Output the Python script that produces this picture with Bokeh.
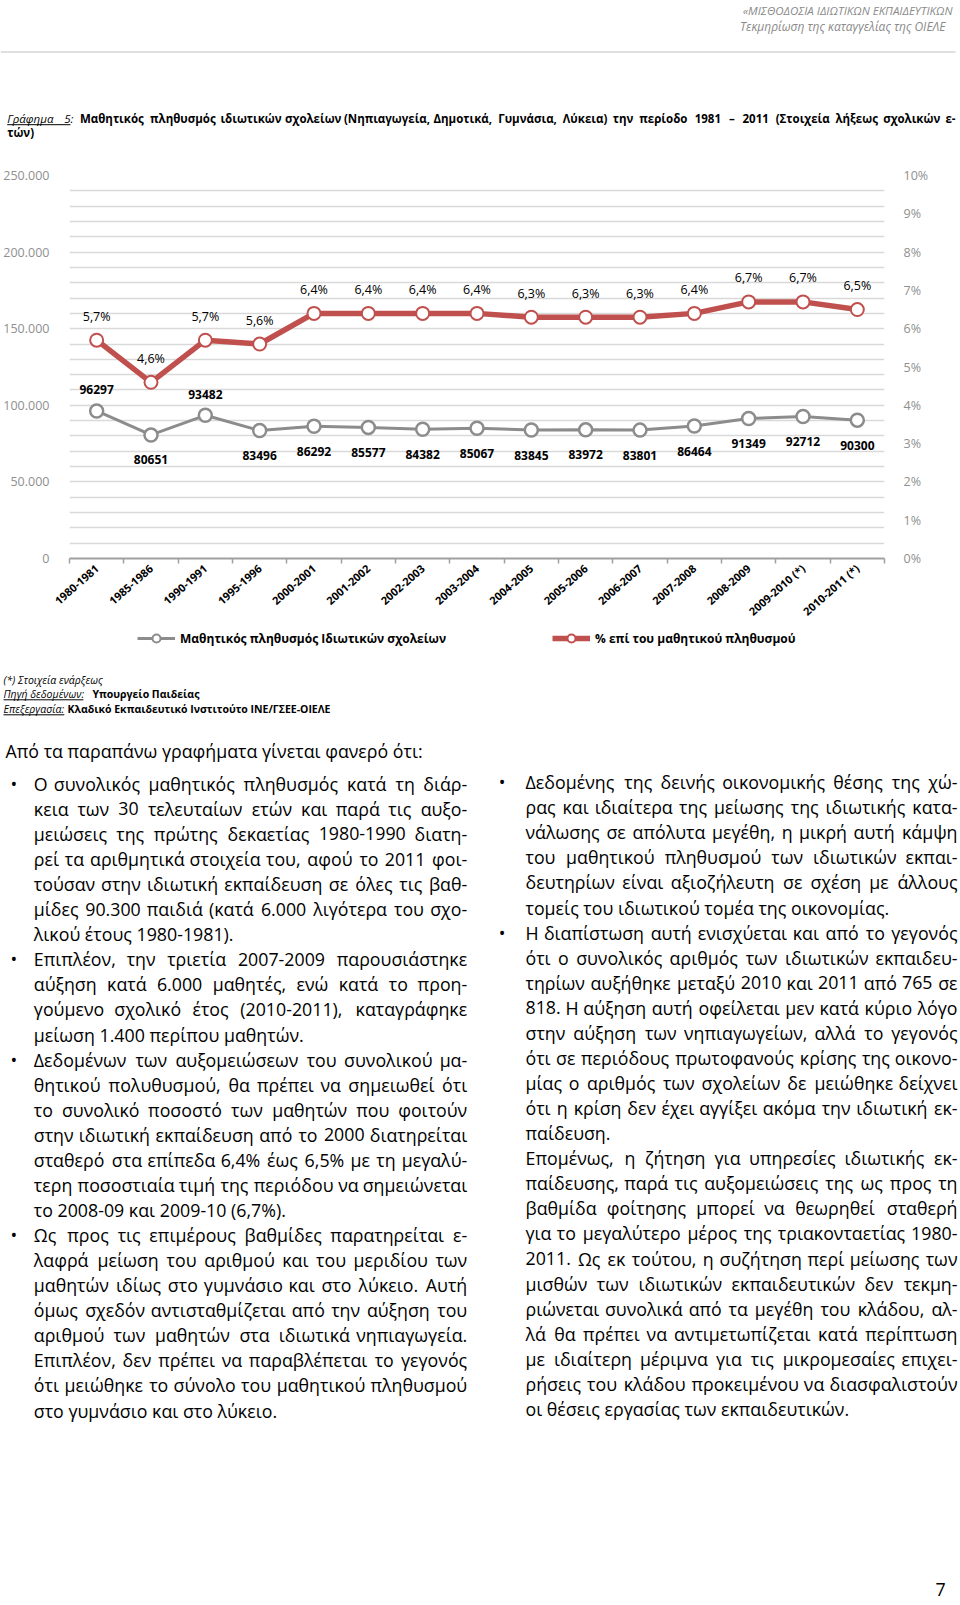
from bokeh.plotting import figure
from bokeh.models import ColumnDataSource, Range1d, LinearAxis, FixedTicker, Legend, LegendItem
from bokeh.layouts import column
from bokeh.embed import file_html
from bokeh.resources import INLINE
from bokeh.core.properties import value

# ---------------- data ----------------
school_years = ["1980-1981", "1985-1986", "1990-1991", "1995-1996", "2000-2001",
                "2001-2002", "2002-2003", "2003-2004", "2004-2005", "2005-2006",
                "2006-2007", "2007-2008", "2008-2009", "2009-2010 (*)", "2010-2011 (*)"]
students = [96297, 80651, 93482, 83496, 86292, 85577, 84382, 85067,
            83845, 83972, 83801, 86464, 91349, 92712, 90300]
share_pct = [5.7, 4.6, 5.7, 5.6, 6.4, 6.4, 6.4, 6.4, 6.3, 6.3, 6.3, 6.4, 6.7, 6.7, 6.5]
left_ticks = [0, 50000, 100000, 150000, 200000, 250000]
left_tick_labels = ["0", "50.000", "100.000", "150.000", "200.000", "250.000"]
right_ticks = [0, 1, 2, 3, 4, 5, 6, 7, 8, 9, 10]
right_tick_labels = ["0%", "1%", "2%", "3%", "4%", "5%", "6%", "7%", "8%", "9%", "10%"]
series_names = ["Μαθητικός πληθυσμός Ιδιωτικών σχολείων", "% επί του μαθητικού πληθυσμού"]
count_label_above = [True, False, True, False, False, False, False, False,
                     False, False, False, False, False, False, False]

header_lines = ["«ΜΙΣΘΟΔΟΣΙΑ ΙΔΙΩΤΙΚΩΝ ΕΚΠΑΙΔΕΥΤΙΚΩΝ", "Τεκμηρίωση της καταγγελίας της ΟΙΕΛΕ"]
title_italic = ["Γράφημα", "5:"]
title_line1 = ("Μαθητικός πληθυσμός ιδιωτικών σχολείων (Νηπιαγωγεία, Δημοτικά, Γυμνάσια, "
               "Λύκεια) την περίοδο 1981 – 2011 (Στοιχεία λήξεως σχολικών ε-")
title_line2 = "τών)"
note_line = "(*) Στοιχεία ενάρξεως"
source_label, source_text = "Πηγή δεδομένων:", "Υπουργείο Παιδείας"
proc_label, proc_text = "Επεξεργασία:", "Κλαδικό Εκπαιδευτικό Ινστιτούτο ΙΝΕ/ΓΣΕΕ-ΟΙΕΛΕ"
intro_line = "Από τα παραπάνω γραφήματα γίνεται φανερό ότι:"

# (text, justified, bullet)
left_lines = [
    ("Ο συνολικός μαθητικός πληθυσμός κατά τη διάρ-", True, True),
    ("κεια των 30 τελευταίων ετών και παρά τις αυξο-", True, False),
    ("μειώσεις της πρώτης δεκαετίας 1980-1990 διατη-", True, False),
    ("ρεί τα αριθμητικά στοιχεία του, αφού το 2011 φοι-", True, False),
    ("τούσαν στην ιδιωτική εκπαίδευση σε όλες τις βαθ-", True, False),
    ("μίδες 90.300 παιδιά (κατά 6.000 λιγότερα του σχο-", True, False),
    ("λικού έτους 1980-1981).", False, False),
    ("Επιπλέον, την τριετία 2007-2009 παρουσιάστηκε", True, True),
    ("αύξηση κατά 6.000 μαθητές, ενώ κατά το προη-", True, False),
    ("γούμενο σχολικό έτος (2010-2011), καταγράφηκε", True, False),
    ("μείωση 1.400 περίπου μαθητών.", False, False),
    ("Δεδομένων των αυξομειώσεων του συνολικού μα-", True, True),
    ("θητικού πολυθυσμού, θα πρέπει να σημειωθεί ότι", True, False),
    ("το συνολικό ποσοστό των μαθητών που φοιτούν", True, False),
    ("στην ιδιωτική εκπαίδευση από το 2000 διατηρείται", True, False),
    ("σταθερό στα επίπεδα 6,4% έως 6,5% με τη μεγαλύ-", True, False),
    ("τερη ποσοστιαία τιμή της περιόδου να σημειώνεται", True, False),
    ("το 2008-09 και 2009-10 (6,7%).", False, False),
    ("Ως προς τις επιμέρους βαθμίδες παρατηρείται ε-", True, True),
    ("λαφρά μείωση του αριθμού και του μεριδίου των", True, False),
    ("μαθητών ιδίως στο γυμνάσιο και στο λύκειο. Αυτή", True, False),
    ("όμως σχεδόν αντισταθμίζεται από την αύξηση του", True, False),
    ("αριθμού των μαθητών στα ιδιωτικά νηπιαγωγεία.", True, False),
    ("Επιπλέον, δεν πρέπει να παραβλέπεται το γεγονός", True, False),
    ("ότι μειώθηκε το σύνολο του μαθητικού πληθυσμού", True, False),
    ("στο γυμνάσιο και στο λύκειο.", False, False),
]
right_lines = [
    ("Δεδομένης της δεινής οικονομικής θέσης της χώ-", True, True),
    ("ρας και ιδιαίτερα της μείωσης της ιδιωτικής κατα-", True, False),
    ("νάλωσης σε απόλυτα μεγέθη, η μικρή αυτή κάμψη", True, False),
    ("του μαθητικού πληθυσμού των ιδιωτικών εκπαι-", True, False),
    ("δευτηρίων είναι αξιοζήλευτη σε σχέση με άλλους", True, False),
    ("τομείς του ιδιωτικού τομέα της οικονομίας.", False, False),
    ("Η διαπίστωση αυτή ενισχύεται και από το γεγονός", True, True),
    ("ότι ο συνολικός αριθμός των ιδιωτικών εκπαιδευ-", True, False),
    ("τηρίων αυξήθηκε μεταξύ 2010 και 2011 από 765 σε", True, False),
    ("818. Η αύξηση αυτή οφείλεται μεν κατά κύριο λόγο", True, False),
    ("στην αύξηση των νηπιαγωγείων, αλλά το γεγονός", True, False),
    ("ότι σε περιόδους πρωτοφανούς κρίσης της οικονο-", True, False),
    ("μίας ο αριθμός των σχολείων δε μειώθηκε δείχνει", True, False),
    ("ότι η κρίση δεν έχει αγγίξει ακόμα την ιδιωτική εκ-", True, False),
    ("παίδευση.", False, False),
    ("Επομένως, η ζήτηση για υπηρεσίες ιδιωτικής εκ-", True, False),
    ("παίδευσης, παρά τις αυξομειώσεις της ως προς τη", True, False),
    ("βαθμίδα φοίτησης μπορεί να θεωρηθεί σταθερή", True, False),
    ("για το μεγαλύτερο μέρος της τριακονταετίας 1980-", True, False),
    ("2011. Ως εκ τούτου, η συζήτηση περί μείωσης των", True, False),
    ("μισθών των ιδιωτικών εκπαιδευτικών δεν τεκμη-", True, False),
    ("ριώνεται συνολικά από τα μεγέθη του κλάδου, αλ-", True, False),
    ("λά θα πρέπει να αντιμετωπίζεται κατά περίπτωση", True, False),
    ("με ιδιαίτερη μέριμνα για τις μικρομεσαίες επιχει-", True, False),
    ("ρήσεις του κλάδου προκειμένου να διασφαλιστούν", True, False),
    ("οι θέσεις εργασίας των εκπαιδευτικών.", False, False),
]
page_number = "7"

# ---------------- styles ----------------
FONT = "Open Sans"
RED = "#C0504D"
GREY = "#8C8C8C"
AXIS_TXT = "#8F8F8F"
W = 960


def cw(c):
    if c == " ":
        return 0.26
    if c in "ιίϊΐΙ":
        return 0.30
    if c in "ijl":
        return 0.25
    if c in "ft":
        return 0.35
    if c == "r":
        return 0.41
    if c in ".:;":
        return 0.27
    if c == ",":
        return 0.25
    if c == "-":
        return 0.32
    if c in "()":
        return 0.29
    if c == "%":
        return 0.83
    if c == "/":
        return 0.37
    if c == "–":
        return 0.50
    if c in "«»":
        return 0.49
    if c == "*":
        return 0.54
    if c.isdigit():
        return 0.572
    if c in "γνχτςεέζξ":
        return 0.49
    if c in "κλ":
        return 0.54
    if c in "φψ":
        return 0.78
    if c in "ωώ":
        return 0.82
    if c == "m":
        return 0.93
    if c == "w":
        return 0.78
    if c in "ΜΩ":
        return 0.88
    if c.isupper():
        return 0.66
    return 0.61


def tw(s, size, style="normal"):
    f = 1.07 if style == "bold" else (0.97 if style == "italic" else 1.0)
    return sum(cw(c) for c in s) * size * f


class Sink:
    def __init__(self):
        self.groups = {}

    def add(self, x, y, t, size, style="normal", align="left", color="#000000"):
        g = self.groups.setdefault((size, style, align, color), dict(x=[], y=[], text=[]))
        g["x"].append(x)
        g["y"].append(y)
        g["text"].append(t)

    def render(self, fig):
        for (size, style, align, color), g in self.groups.items():
            fig.text(x="x", y="y", text="text", source=ColumnDataSource(g),
                     text_font=value(FONT), text_font_size=value(f"{size}px"),
                     text_font_style=value(style), text_align=value(align),
                     text_baseline=value("middle"), text_color=value(color))


def justify(sink, words, left, right, y, size, color="#000000"):
    """words: list of (word, style). Returns left/right edge of each word."""
    widths = [tw(w, size, s) for w, s in words]
    n = len(words)
    gap = (right - left - sum(widths)) / (n - 1)
    pos = left
    edges = []
    for i, (w, s) in enumerate(words):
        if i == 0:
            sink.add(left, y, w, size, s, "left", color)
        elif i == n - 1:
            sink.add(right, y, w, size, s, "right", color)
        else:
            sink.add(pos + widths[i] / 2, y, w, size, s, "center", color)
        edges.append((pos, pos + widths[i]))
        pos += widths[i] + gap
    return edges


def text_fig(h):
    f = figure(width=W, height=h, x_range=Range1d(0, W), y_range=Range1d(h, 0),
               toolbar_location=None, output_backend="svg",
               x_axis_type=None, y_axis_type=None,
               min_border=0, min_border_left=0, min_border_right=0,
               min_border_top=0, min_border_bottom=0, frame_align=False)
    f.outline_line_color = None
    f.background_fill_color = "white"
    return f


# ---------------- header figure (page y 0..150) ----------------
HA = 150
fa = text_fig(HA)
sa = Sink()
sa.add(952, 10, header_lines[0], 11.5, "italic", "right", "#8A8A8A")
sa.add(945, 25.7, header_lines[1], 12, "italic", "right", "#8A8A8A")
fa.segment(x0=[0], y0=[51.5], x1=[955], y1=[51.5], line_color="#D4D4D4", line_width=1.5)
TS = 11.5
title_words = [(w, "italic") for w in title_italic] + [(w, "bold") for w in title_line1.split(" ")]
edges = justify(sa, title_words, 6.7, 955, 117.7, TS)
ul_end = edges[1][1] - tw(":", TS, "italic")
fa.segment(x0=[6.7], y0=[117.7 + 6.5], x1=[ul_end], y1=[117.7 + 6.5], line_color="#000000", line_width=1)
sa.add(6.7, 132.3, title_line2, TS, "bold", "left")
sa.render(fa)

# ---------------- chart figure (page y 150..628) ----------------
xs = [i + 0.5 for i in range(len(school_years))]
src = ColumnDataSource(dict(
    x=xs, students=students, pct=share_pct,
    cnt_lbl=[str(v) for v in students],
    pct_lbl=[f"{v:.1f}".replace(".", ",") + "%" for v in share_pct],
    cnt_off=[-21 if a else 25 for a in count_label_above],
))

p = figure(frame_width=815, frame_height=383,
           x_range=Range1d(0, len(school_years)), y_range=Range1d(0, 250000),
           toolbar_location=None, output_backend="svg", frame_align=False,
           min_border_left=68, min_border_right=77, min_border_top=25, min_border_bottom=70)
p.outline_line_color = None
p.xgrid.visible = False
p.ygrid.ticker = FixedTicker(ticks=list(range(10000, 250001, 10000)))
p.ygrid.grid_line_color = "#D9D9D9"
p.ygrid.grid_line_width = 1.3

ya = p.yaxis[0]
ya.ticker = FixedTicker(ticks=left_ticks)
ya.major_label_overrides = dict(zip(left_ticks, left_tick_labels))
ya.axis_line_color = None
ya.major_tick_line_color = None
ya.minor_tick_line_color = None
ya.major_label_text_font = FONT
ya.major_label_text_font_size = "12.5px"
ya.major_label_text_color = AXIS_TXT
ya.major_label_standoff = 14

p.extra_y_ranges = {"pct": Range1d(0, 10)}
ra = LinearAxis(y_range_name="pct", ticker=FixedTicker(ticks=right_ticks),
                major_label_overrides=dict(zip(right_ticks, right_tick_labels)))
ra.axis_line_color = None
ra.major_tick_line_color = None
ra.minor_tick_line_color = None
ra.major_label_text_font = FONT
ra.major_label_text_font_size = "12.5px"
ra.major_label_text_color = AXIS_TXT
ra.major_label_standoff = 13
p.add_layout(ra, "right")

xa = p.xaxis[0]
xa.ticker = FixedTicker(ticks=xs, minor_ticks=list(range(len(school_years) + 1)))
xa.major_label_overrides = dict(zip(xs, school_years))
xa.axis_line_color = "#A0A0A0"
xa.axis_line_width = 2
xa.major_tick_line_color = None
xa.minor_tick_line_color = "#A0A0A0"
xa.minor_tick_line_width = 1.5
xa.minor_tick_in = 0
xa.minor_tick_out = 5
xa.major_label_orientation = 0.72
xa.major_label_text_font = FONT
xa.major_label_text_font_size = "11px"
xa.major_label_text_font_style = "bold"
xa.major_label_text_color = "#000000"
xa.major_label_standoff = 2

gl = p.line(x="x", y="students", source=src, line_color=GREY, line_width=3)
gs = p.scatter(x="x", y="students", source=src, marker="circle", size=13,
               fill_color="white", line_color=GREY, line_width=2.5)
rl = p.line(x="x", y="pct", source=src, y_range_name="pct", line_color=RED, line_width=5.5)
rs = p.scatter(x="x", y="pct", source=src, y_range_name="pct", marker="circle", size=13,
               fill_color="white", line_color=RED, line_width=2)

p.text(x="x", y="students", text="cnt_lbl", source=src, y_offset="cnt_off",
       text_font=value(FONT), text_font_size=value("12px"), text_font_style=value("bold"),
       text_align=value("center"), text_baseline=value("middle"), text_color=value("#000000"))
p.text(x="x", y="pct", text="pct_lbl", source=src, y_range_name="pct", y_offset=-24,
       text_font=value(FONT), text_font_size=value("12.5px"),
       text_align=value("center"), text_baseline=value("middle"), text_color=value("#000000"))

# ---------------- legend strip (page y 628..648) ----------------
HL = 20
fl = text_fig(HL)
fl.y_range = Range1d(0, HL)
# legend swatch renderers: one point kept outside the visible strip, only their styles are shown
swatch = dict(x=[-100], y=[-100])
leg_styles = [
    (series_names[0], GREY, 3, 2, 137),
    (series_names[1], RED, 5.5, 2, 552),
]
for name, col, lw, mlw, lx in leg_styles:
    lr = fl.line(x="x", y="y", source=ColumnDataSource(swatch), line_color=col, line_width=lw)
    mr = fl.scatter(x="x", y="y", source=ColumnDataSource(swatch), marker="circle",
                    fill_color="white", line_color=col, line_width=mlw)
    leg = Legend(items=[LegendItem(label=name, renderers=[lr, mr])], location=(lx, 0),
                 orientation="horizontal", padding=0, margin=0, spacing=0,
                 glyph_width=38, glyph_height=HL, label_standoff=5, label_height=HL,
                 label_text_font=FONT, label_text_font_size="12px",
                 label_text_font_style="bold", label_text_color="#000000",
                 border_line_color=None, background_fill_alpha=0)
    fl.add_layout(leg, "center")

# ---------------- body text figure (page y 648..1598) ----------------
Y0 = 648
HC = 950
fc = text_fig(HC)
sc = Sink()
FS_NOTE = 10.5
sc.add(3, 679 - Y0, note_line, FS_NOTE, "italic", "left")
sc.add(3, 693.3 - Y0, source_label, FS_NOTE, "italic", "left")
sc.add(92, 693.3 - Y0, source_text, FS_NOTE, "bold", "left")
sc.add(3, 708.3 - Y0, proc_label, FS_NOTE, "italic", "left")
sc.add(67, 708.3 - Y0, proc_text, FS_NOTE, "bold", "left")
ul_src = 3 + tw(source_label[:-1], FS_NOTE, "italic")
ul_proc = 3 + tw(proc_label[:-1], FS_NOTE, "italic")
fc.segment(x0=[3, 3], y0=[693.3 + 6 - Y0, 708.3 + 6 - Y0], x1=[ul_src, ul_proc],
           y1=[693.3 + 6 - Y0, 708.3 + 6 - Y0], line_color="#000000", line_width=1)

FS = 17.8
sc.add(5, 750.7 - Y0, intro_line, FS, "normal", "left")
STEP = 25.07
for lines, y0, tl, tr, bx in [(left_lines, 783.3 - Y0, 33.3, 466.7, 13.3),
                              (right_lines, 781.7 - Y0, 525, 957, 501.7)]:
    for k, (line, just, bullet) in enumerate(lines):
        y = y0 + STEP * k
        if bullet:
            sc.add(bx, y, "•", FS, "normal", "center")
        if just:
            justify(sc, [(w, "normal") for w in line.split(" ")], tl, tr, y, FS)
        else:
            sc.add(tl, y, line, FS, "normal", "left")
sc.add(940, 1589 - Y0, page_number, FS, "normal", "center")
sc.render(fc)

layout = column(fa, p, fl, fc, spacing=0)
open("out.html", "w").write(file_html(layout, INLINE))
